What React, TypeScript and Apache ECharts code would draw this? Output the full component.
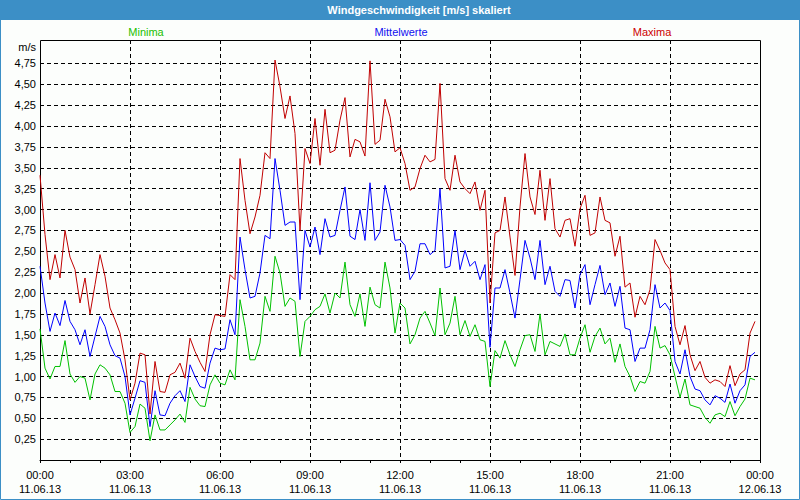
import React, { useEffect, useRef } from "react";
import * as echarts from "echarts";

// 10-minute samples, 11.06.13 00:00 .. 23:50
const STEP_HOURS = 10 / 60;
const DAY1 = "11.06.13";
const DAY2 = "12.06.13";
const TITLE = "Windgeschwindigkeit [m/s] skaliert";
const UNIT = "m/s";
const SERIES_NAMES = ["Minima", "Mittelwerte", "Maxima"];

const maxima = [
  3.41, 2.70, 2.16, 2.46, 2.18, 2.75, 2.43, 2.28, 1.88, 2.18,
  1.75, 2.10, 2.46, 2.20, 1.82, 1.68, 1.52, 1.20, 0.72, 0.92,
  1.28, 1.26, 0.55, 1.18, 0.82, 0.81, 1.02, 1.05, 1.16, 0.98,
  1.46, 1.30, 1.17, 1.06, 1.50, 1.74, 1.73, 1.72, 2.22, 2.16,
  3.61, 3.11, 2.71, 2.91, 3.17, 3.68, 3.61, 4.79, 4.47, 4.09,
  4.36, 3.91, 2.75, 3.73, 3.55, 4.09, 3.53, 4.20, 3.68, 3.71,
  4.07, 4.34, 3.63, 3.84, 3.81, 3.64, 4.78, 3.78, 3.83, 4.32,
  4.11, 3.69, 3.74, 3.55, 3.23, 3.27, 3.49, 3.65, 3.57, 3.60,
  4.51, 3.37, 3.23, 3.65, 3.33, 3.25, 3.19, 3.33, 2.99, 3.23,
  1.88, 2.72, 2.75, 3.15, 2.67, 2.21, 3.03, 3.67, 3.15, 2.94,
  3.47, 2.87, 3.37, 2.77, 2.67, 2.87, 2.89, 2.56, 3.01, 3.17,
  2.69, 2.72, 3.15, 2.87, 2.84, 2.44, 2.68, 2.07, 2.12, 1.71,
  1.96, 1.86, 2.04, 2.64, 2.51, 2.36, 2.28, 1.60, 1.38, 1.61,
  1.26, 1.07, 1.18, 0.99, 0.92, 0.96, 0.94, 0.88, 1.13, 0.89,
  1.03, 1.08, 1.52, 1.66,
];

const mittelwerte = [
  2.32, 1.88, 1.54, 1.76, 1.61, 1.91, 1.66, 1.56, 1.38, 1.56,
  1.24, 1.48, 1.72, 1.60, 1.38, 1.25, 1.22, 1.00, 0.54, 0.74,
  0.95, 0.93, 0.40, 0.83, 0.54, 0.53, 0.68, 0.77, 0.83, 0.70,
  1.14, 1.00, 0.88, 0.86, 1.16, 1.34, 1.32, 1.33, 1.68, 1.50,
  2.67, 2.28, 1.94, 1.96, 2.24, 2.69, 2.65, 3.61, 3.23, 2.81,
  2.85, 2.85, 1.92, 2.75, 2.55, 2.79, 2.46, 2.89, 2.67, 2.69,
  2.99, 3.27, 2.68, 2.64, 3.00, 2.63, 3.32, 2.63, 2.73, 3.29,
  3.03, 2.63, 2.64, 2.57, 2.16, 2.26, 2.59, 2.59, 2.46, 2.51,
  3.25, 2.30, 2.32, 2.75, 2.28, 2.51, 2.32, 2.38, 2.16, 2.34,
  1.35, 2.06, 2.06, 2.28, 2.00, 1.70, 2.16, 2.63, 2.42, 2.16,
  2.63, 2.10, 2.32, 2.02, 1.96, 2.16, 2.15, 1.82, 2.22, 2.34,
  1.86, 2.10, 2.33, 1.98, 2.12, 1.84, 2.08, 1.58, 1.56, 1.18,
  1.34, 1.34, 1.56, 2.10, 1.82, 1.88, 1.79, 1.18, 1.03, 1.32,
  1.00, 0.85, 0.83, 0.72, 0.66, 0.77, 0.74, 0.69, 0.91, 0.68,
  0.83, 0.90, 1.24, 1.29,
];

const minima = [
  1.57, 1.10, 0.97, 1.12, 1.12, 1.43, 1.03, 0.93, 1.00, 0.98,
  0.72, 1.03, 1.14, 1.10, 1.02, 0.82, 0.82, 0.68, 0.33, 0.40,
  0.67, 0.62, 0.23, 0.54, 0.36, 0.36, 0.42, 0.48, 0.55, 0.45,
  0.87, 0.73, 0.65, 0.64, 0.90, 1.02, 0.92, 0.90, 1.08, 0.96,
  1.92, 1.60, 1.20, 1.20, 1.40, 1.96, 1.78, 2.44, 2.24, 1.84,
  1.94, 1.90, 1.24, 1.66, 1.72, 1.80, 1.84, 1.99, 1.76, 2.00,
  1.94, 2.37, 1.86, 1.72, 1.99, 1.60, 2.07, 1.86, 1.82, 2.37,
  2.06, 1.52, 1.88, 1.82, 1.39, 1.50, 1.70, 1.78, 1.64, 1.49,
  2.06, 1.50, 1.64, 1.96, 1.50, 1.67, 1.48, 1.62, 1.44, 1.42,
  0.88, 1.31, 1.22, 1.43, 1.26, 1.12, 1.32, 1.49, 1.50, 1.30,
  1.75, 1.26, 1.42, 1.39, 1.36, 1.51, 1.26, 1.26, 1.46, 1.62,
  1.29, 1.48, 1.58, 1.39, 1.46, 1.17, 1.39, 1.12, 1.00, 0.82,
  0.94, 0.92, 1.06, 1.60, 1.34, 1.37, 1.26, 1.00, 0.75, 0.97,
  0.66, 0.64, 0.62, 0.51, 0.44, 0.54, 0.56, 0.52, 0.70, 0.53,
  0.64, 0.73, 0.98, 0.96,
];

const FONT = "'Liberation Sans', Arial, sans-serif";
const COLORS = ["#00c000", "#0000ff", "#c00000"];
const LEGEND_COLORS = ["#22c000", "#1010f0", "#cc0000"];
const BAR_BLUE = "#3c8fc6";

const toPairs = (arr: number[]) => arr.map((v, i) => [i * STEP_HOURS, v]);

const pad = (n: number) => (n < 10 ? "0" + n : "" + n);

export default function App() {
  const ref = useRef<HTMLDivElement>(null);
  useEffect(() => {
    if (!ref.current) return;
    const chart = echarts.init(ref.current, undefined, { renderer: "svg" });
    const dash = [4, 3];
    chart.setOption({
      animation: false,
      backgroundColor: "#fcfefc",
      grid: [
        { left: 40, right: 40, top: 42.5, bottom: 40, containLabel: false, outerBoundsMode: "none" },
        { left: 40, right: 40, top: 40, bottom: 40, containLabel: false, outerBoundsMode: "none" },
      ],
      xAxis: [
        {
          type: "value",
          gridIndex: 0,
          min: 0,
          max: 24,
          interval: 3,
          axisLine: { show: true, lineStyle: { color: "#000", width: 1 } },
          axisTick: { show: true, length: 3, lineStyle: { color: "#000" } },
          minorTick: { show: true, splitNumber: 3, length: 3, lineStyle: { color: "#000" } },
          splitLine: { show: false },
          axisLabel: {
            margin: 8,
            fontSize: 11,
            lineHeight: 14,
            fontFamily: FONT,
            color: "#000",
            formatter: (v: number) => {
              const h = Math.round(v) % 24;
              const d = v >= 24 ? DAY2 : DAY1;
              return pad(h) + ":00\n" + d;
            },
          },
        },
        {
          type: "value",
          gridIndex: 1,
          min: 0,
          max: 24,
          interval: 3,
          axisLine: { show: false },
          axisTick: { show: false },
          axisLabel: { show: false },
          splitLine: {
            show: true,
            showMinLine: false,
            showMaxLine: false,
            lineStyle: { color: "#000", width: 1, type: dash },
          },
        },
      ],
      yAxis: [
        {
          type: "value",
          gridIndex: 0,
          min: 0,
          max: 5,
          interval: 0.25,
          axisLine: { show: false },
          axisTick: { show: false },
          splitLine: {
            show: true,
            showMinLine: false,
            showMaxLine: false,
            lineStyle: { color: "#000", width: 1, type: dash },
          },
          axisLabel: {
            margin: 4,
            fontSize: 11,
            fontFamily: FONT,
            color: "#000",
            formatter: (v: number) =>
              v <= 0 || v > 4.8 ? "" : v.toFixed(2).replace(".", ","),
          },
        },
        {
          type: "value",
          gridIndex: 1,
          min: 0,
          max: 1,
          show: false,
        },
      ],
      series: [
        { name: SERIES_NAMES[0], data: toPairs(minima), color: COLORS[0] },
        { name: SERIES_NAMES[1], data: toPairs(mittelwerte), color: COLORS[1] },
        { name: SERIES_NAMES[2], data: toPairs(maxima), color: COLORS[2] },
      ].map((s) => ({
        type: "line",
        name: s.name,
        xAxisIndex: 0,
        yAxisIndex: 0,
        data: s.data,
        showSymbol: false,
        symbol: "none",
        lineStyle: { color: s.color, width: 1 },
        itemStyle: { color: s.color },
        emphasis: { disabled: true },
        z: 3,
      })),
      graphic: [
        {
          type: "rect",
          shape: { x: 0, y: 0, width: 800, height: 20 },
          style: { fill: BAR_BLUE },
          z: 1,
        },
        {
          type: "rect",
          shape: { x: 0.5, y: 0.5, width: 799, height: 499 },
          style: { fill: "none", stroke: BAR_BLUE, lineWidth: 1 },
          z: 1,
        },
        {
          type: "rect",
          shape: { x: 40.5, y: 40.5, width: 720, height: 420 },
          style: { fill: "none", stroke: "#000", lineWidth: 1 },
          z: 1,
        },
        {
          type: "text",
          x: 419,
          y: 10,
          style: {
            text: TITLE,
            fill: "#fff",
            font: `bold 11px ${FONT}`,
            textAlign: "center",
            textVerticalAlign: "middle",
          },
          z: 2,
        },
        {
          type: "text",
          x: 36,
          y: 47,
          style: {
            text: UNIT,
            fill: "#000",
            font: `11px ${FONT}`,
            textAlign: "right",
            textVerticalAlign: "middle",
          },
          z: 2,
        },
        ...[146, 401, 652].map((cx, i) => ({
          type: "text",
          x: cx,
          y: 32,
          style: {
            text: SERIES_NAMES[i],
            fill: LEGEND_COLORS[i],
            font: `11px ${FONT}`,
            textAlign: "center",
            textVerticalAlign: "middle",
          },
          z: 2,
        })),
      ],
    });
    return () => chart.dispose();
  }, []);
  return (
    <div
      ref={ref}
      style={{ position: "absolute", left: 0, top: 0, width: 800, height: 500 }}
    />
  );
}
